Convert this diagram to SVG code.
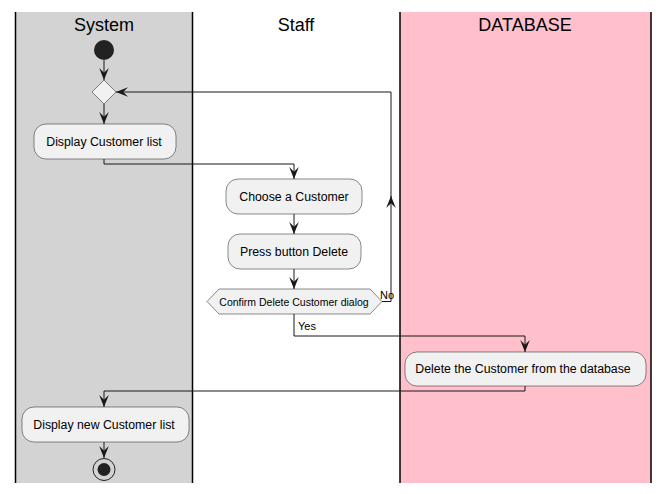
<svg xmlns="http://www.w3.org/2000/svg" width="667" height="494" viewBox="0 0 667 494">
<defs>
<style>
.lane{stroke:#000;stroke-width:1.5}
.title{font-family:"Liberation Sans",Arial,sans-serif;font-size:18px;fill:#000;text-anchor:middle}
.act{fill:#F1F1F1;stroke:#181818;stroke-width:0.5}
.txt{font-family:"Liberation Sans",Arial,sans-serif;font-size:12.3px;fill:#000;text-anchor:middle}
.small{font-family:"Liberation Sans",Arial,sans-serif;font-size:11px;fill:#000}
.edge{fill:none;stroke:#181818;stroke-width:1;marker-end:url(#arr)}
</style>
<marker id="arr" markerUnits="userSpaceOnUse" markerWidth="12" markerHeight="12" viewBox="0 0 10 8" refX="10" refY="4" orient="auto">
<path d="M0,0 L10,4 L0,8 L4,4 Z" fill="#181818"/>
</marker>
</defs>
<g id="lanes">
<rect x="15" y="12" width="177" height="471" fill="#D3D3D3"/>
<rect x="400" y="12" width="251" height="471" fill="#FFC0CB"/>
<line class="lane" x1="15.5" y1="12" x2="15.5" y2="483"/>
<line class="lane" x1="192.5" y1="12" x2="192.5" y2="483"/>
<line class="lane" x1="400" y1="12" x2="400" y2="483"/>
<line class="lane" x1="651" y1="12" x2="651" y2="483"/>
<text class="title" x="104" y="31">System</text>
<text class="title" x="296" y="31">Staff</text>
<text class="title" x="525" y="31">DATABASE</text>
</g>
<g id="edges">
<path class="edge" d="M104,60 V80"/>
<path class="edge" d="M104,104 V124"/>
<path class="edge" d="M104,159 V164 H294 V179"/>
<path class="edge" d="M294,214 V234"/>
<path class="edge" d="M294,269 V289"/>
<path class="edge" d="M382,301.5 H391 V196"/>
<path class="edge" d="M391,197 V92 H116"/>
<path class="edge" d="M294,314 V336 H525 V352"/>
<path class="edge" d="M525,386 V391 H104 V407"/>
<path class="edge" d="M104,442 V458"/>
<text class="small" x="380" y="299">No</text>
<text class="small" x="298" y="330">Yes</text>
</g>
<g id="start"><circle cx="104" cy="50" r="10" fill="#222"/></g>
<g id="merge"><polygon points="104,80 116,92 104,104 92,92" fill="#F1F1F1" stroke="#181818" stroke-width="0.5"/></g>
<g id="display">
<rect class="act" x="34" y="124" width="142" height="35" rx="12"/>
<text class="txt" x="104" y="146">Display Customer list</text>
</g>
<g id="choose">
<rect class="act" x="226" y="179" width="136" height="35" rx="12"/>
<text class="txt" x="294" y="201">Choose a Customer</text>
</g>
<g id="press">
<rect class="act" x="228" y="234" width="133" height="35" rx="12"/>
<text class="txt" x="294" y="256">Press button Delete</text>
</g>
<g id="confirm">
<polygon points="207,301.5 219,289 370,289 382,301.5 370,314 219,314" fill="#F1F1F1" stroke="#181818" stroke-width="0.5"/>
<text class="small" x="294" y="305.5" text-anchor="middle" style="font-size:10.5px">Confirm Delete Customer dialog</text>
</g>
<g id="delete">
<rect class="act" x="405" y="352" width="241" height="34" rx="12"/>
<text class="txt" x="523" y="373">Delete the Customer from the database</text>
</g>
<g id="displaynew">
<rect class="act" x="22" y="407" width="167" height="35" rx="12"/>
<text class="txt" x="104" y="429">Display new Customer list</text>
</g>
<g id="end">
<circle cx="104" cy="469.5" r="11" fill="none" stroke="#222" stroke-width="1"/>
<circle cx="104" cy="469.5" r="6.5" fill="#222"/>
</g>
</svg>
